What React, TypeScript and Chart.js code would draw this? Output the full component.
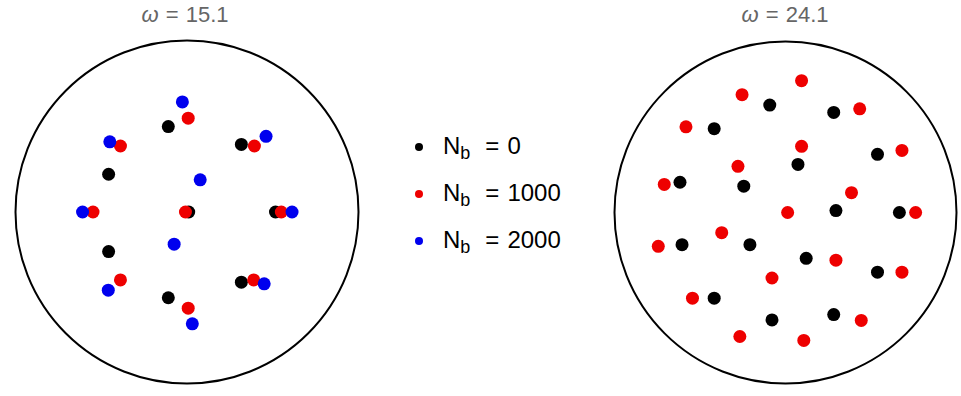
import React, { useEffect, useRef } from "react";
import { Chart, registerables } from "chart.js";

Chart.register(...registerables);

// Positions are in units of the trap radius (boundary circle = radius 1).
const w15Nb0: [number, number][] = [
  [-0.109, 0.498], [0.317, 0.394], [-0.457, 0.22], [0.01, 0],
  [0.516, 0], [-0.457, -0.231], [0.317, -0.409], [-0.109, -0.5],
];
const w15Nb1000: [number, number][] = [
  [0.007, 0.547], [0.393, 0.385], [-0.388, 0.385], [-0.548, 0],
  [-0.009, 0], [0.55, 0], [-0.388, -0.396], [0.389, -0.396], [0.007, -0.561],
];
const w15Nb2000: [number, number][] = [
  [-0.027, 0.642], [0.461, 0.441], [-0.45, 0.409], [0.077, 0.1875],
  [-0.609, 0], [0.6125, 0], [-0.075, -0.1875], [-0.459, -0.456],
  [0.45, -0.419], [0.031, -0.652],
];

const w24Nb0: [number, number][] = [
  [-0.092, 0.628], [0.282, 0.585], [-0.417, 0.49], [0.538, 0.34],
  [0.073, 0.281], [-0.617, 0.177], [-0.244, 0.154], [0.295, 0.011],
  [0.666, 0], [-0.605, -0.188], [-0.208, -0.188], [0.121, -0.268],
  [0.538, -0.349], [-0.417, -0.501], [-0.079, -0.628], [0.282, -0.597],
];
const w24Nb1000: [number, number][] = [
  [0.094, 0.771], [-0.254, 0.689], [0.434, 0.606], [-0.582, 0.501],
  [0.094, 0.387], [0.681, 0.363], [-0.278, 0.27], [-0.709, 0.164],
  [0.386, 0.116], [0.0125, 0], [0.761, 0], [-0.373, -0.118],
  [-0.744, -0.198], [0.295, -0.279], [-0.079, -0.383], [0.681, -0.349],
  [-0.544, -0.501], [0.443, -0.631], [-0.267, -0.725], [0.107, -0.748],
];

const seriesLabels = ["0", "1000", "2000"];
const seriesColors = ["#000000", "#ee0000", "#0000ee"];

const trapBoundary = {
  id: "trapBoundary",
  beforeDatasetsDraw(chart: any) {
    const { ctx, scales } = chart;
    const cx = scales.x.getPixelForValue(0);
    const cy = scales.y.getPixelForValue(0);
    const r = scales.x.getPixelForValue(1) - cx;
    ctx.save();
    ctx.beginPath();
    ctx.arc(cx, cy, r, 0, Math.PI * 2);
    ctx.lineWidth = 2;
    ctx.strokeStyle = "#000";
    ctx.stroke();
    ctx.restore();
  },
};

function CrystalPlot({
  series,
  size,
  left,
  top,
}: {
  series: [number, number][][];
  size: number;
  left: number;
  top: number;
}) {
  const ref = useRef<HTMLCanvasElement>(null);
  useEffect(() => {
    if (!ref.current) return;
    const chart = new Chart(ref.current, {
      type: "scatter",
      data: {
        datasets: series.map((pts, i) => ({
          label: `Nb = ${seriesLabels[i]}`,
          data: pts.map(([x, y]) => ({ x, y })),
          backgroundColor: seriesColors[i],
          borderWidth: 0,
          pointRadius: 6.5,
          pointHoverRadius: 6.5,
          order: series.length - i,
          clip: false as any,
        })),
      },
      plugins: [trapBoundary],
      options: {
        animation: false,
        responsive: false,
        layout: { padding: 2 },
        plugins: { legend: { display: false }, tooltip: { enabled: false } },
        events: [],
        scales: {
          x: { type: "linear", min: -1, max: 1, display: false },
          y: { type: "linear", min: -1, max: 1, display: false },
        },
      },
    });
    return () => chart.destroy();
  }, [series]);
  return (
    <canvas
      ref={ref}
      width={size}
      height={size}
      style={{ position: "absolute", left, top, width: size, height: size }}
    />
  );
}

const titleStyle: React.CSSProperties = {
  position: "absolute",
  top: 4,
  width: 200,
  textAlign: "center",
  fontFamily: "'Liberation Sans', Arial, sans-serif",
  fontSize: 22,
  lineHeight: "22px",
  color: "#666666",
  wordSpacing: 1,
};

function Title({ centerX, value }: { centerX: number; value: string }) {
  return (
    <div style={{ ...titleStyle, left: centerX - 100 }}>
      <i>ω</i> = {value}
    </div>
  );
}

function Legend() {
  return (
    <div
      style={{
        position: "absolute",
        left: 415,
        top: 123,
        fontFamily: "'Liberation Sans', Arial, sans-serif",
        fontSize: 24,
        lineHeight: "24px",
        color: "#000",
      }}
    >
      {seriesLabels.map((lab, i) => (
        <div
          key={lab}
          style={{ display: "flex", alignItems: "center", height: 47, whiteSpace: "nowrap" }}
        >
          <span
            style={{
              display: "inline-block",
              width: 8,
              height: 8,
              borderRadius: "50%",
              background: seriesColors[i],
              marginRight: 20,
            }}
          />
          <span>
            N
            <span style={{ fontSize: 18, position: "relative", top: 5 }}>b</span>
            <span style={{ marginLeft: 15, marginRight: 8 }}>=</span>
            {lab}
          </span>
        </div>
      ))}
    </div>
  );
}

export default function App() {
  return (
    <div
      style={{
        position: "fixed",
        left: 0,
        top: 0,
        width: 961,
        height: 396,
        background: "#fff",
        overflow: "hidden",
      }}
    >
      <Title centerX={185} value="15.1" />
      <Title centerX={785} value="24.1" />
      <CrystalPlot series={[w15Nb0, w15Nb1000, w15Nb2000]} size={356} left={8.5} top={34} />
      <Legend />
      <CrystalPlot series={[w24Nb0, w24Nb1000]} size={355} left={608} top={34.5} />
    </div>
  );
}
